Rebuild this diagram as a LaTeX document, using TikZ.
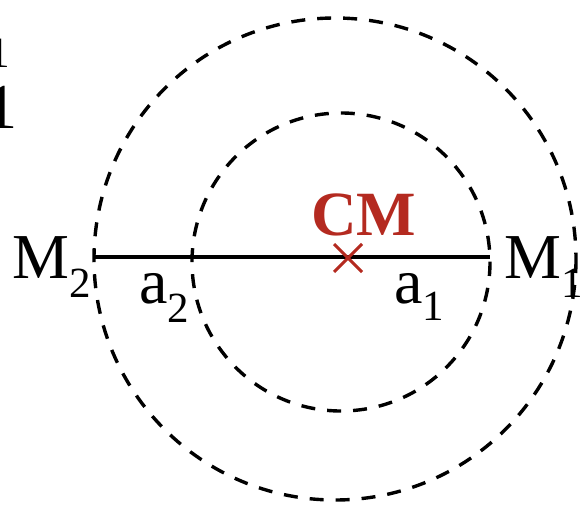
\documentclass[tikz,border=0pt]{standalone}
\usepackage{fontspec}
\setmainfont{Liberation Serif}
\definecolor{cmred}{RGB}{180,42,32}
\tikzset{
  orbit/.style={draw=black, line width=3.4pt, dash pattern=on 14pt off 12pt},
  axis/.style={draw=black, line width=3.2pt},
  lab/.style={anchor=base west, inner sep=0pt, font=\fontsize{64}{64}\selectfont},
  cmlab/.style={anchor=base west, inner sep=0pt, text=cmred, font=\fontsize{63}{63}\selectfont\bfseries},
  cross/.style={draw=cmred, line width=3pt}
}
\newcommand{\sbs}[2]{\raisebox{-#1pt}{\fontsize{43}{43}\selectfont #2}}
\begin{document}
\begin{tikzpicture}[x=1pt,y=-1pt]
\useasboundingbox (0,0) rectangle (580,506);
\clip (0,0) rectangle (580,506);
% orbits
\draw[orbit] (335,259) circle[radius=241];
\draw[orbit] (341,262) circle[radius=149];
% axis
\coordinate (m2) at (95,257);
\coordinate (m1) at (490,257);
\draw[axis] (m2) -- (m1);
% centre of mass
\coordinate (cm) at (348,258);
\draw[cross] ([shift={(-14,-14)}]cm) -- ([shift={(14,14)}]cm);
\draw[cross] ([shift={(-14,14)}]cm) -- ([shift={(14,-14)}]cm);
\node[cmlab] (cmt) at (311,235) {CM};
% labels
\node[lab] (M2) at (12,278) {M\sbs{19}{2}};
\node[lab] (A2) at (139,303) {a\sbs{19}{2}};
\node[lab] (A1) at (394,303) {a\sbs{17}{1}};
\node[lab] (M1) at (504,278) {M\sbs{19}{1}};
% clipped text at top left
\node[anchor=base west, inner sep=0pt, font=\fontsize{43}{43}\selectfont] (t1) at (-12,67) {1};
\node[lab] (t2) at (-15,128) {1};
\end{tikzpicture}
\end{document}
